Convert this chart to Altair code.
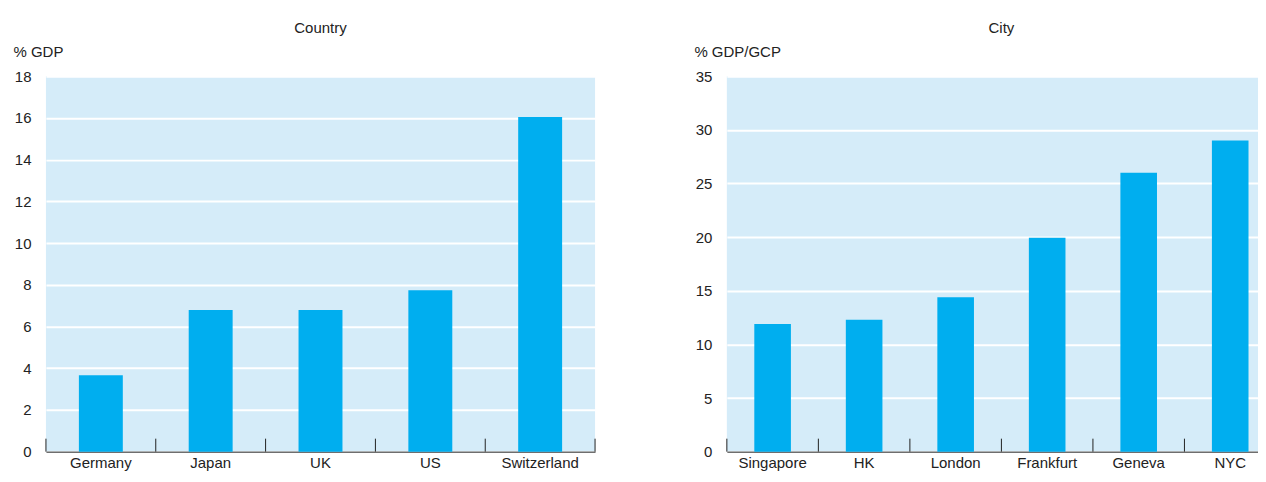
import altair as alt
import pandas as pd

countries = ["Germany", "Japan", "UK", "US", "Switzerland"]
country_vals = [3.66, 6.79, 6.79, 7.74, 16.05]
cities = ["Singapore", "HK", "London", "Frankfurt", "Geneva", "NYC"]
city_vals = [11.9, 12.3, 14.4, 19.95, 26.0, 29.0]

BAR = "#00AEEF"
BG = "#D5ECF9"
INK = "#222222"
FONT = "Liberation Sans"
W, H = 550, 376


def panel(cats, vals, ymax, ystep, ytitle, title):
    df = pd.DataFrame({"cat": cats, "val": vals})
    xs = alt.X("cat:N", sort=cats, scale=alt.Scale(paddingInner=0, paddingOuter=0),
               axis=alt.Axis(title=None, labelAngle=0, ticks=False, domain=True,
                             domainColor=INK, domainWidth=1, labelPadding=4,
                             labelFontSize=15, labelColor=INK, labelFont=FONT))
    bars = alt.Chart(df).mark_bar(color=BAR, width={"band": 0.4}).encode(
        x=xs,
        y=alt.Y("val:Q", scale=alt.Scale(domain=[0, ymax], nice=False),
                axis=alt.Axis(title=ytitle, values=list(range(0, ymax + 1, ystep)),
                              ticks=False, domain=False, grid=True, gridColor="white",
                              gridWidth=2, labelPadding=15, labelFontSize=15,
                              labelColor=INK, labelFont=FONT,
                              titleAngle=0, titleAlign="left", titleBaseline="alphabetic",
                              titleX=-33, titleY=-20, titleFontSize=15,
                              titleFontWeight="normal", titleColor=INK,
                              titleFont=FONT)),
    )
    ticks = alt.Chart(df).mark_rule(color=INK, strokeWidth=1).encode(
        x=alt.X("cat:N", sort=cats, bandPosition=0),
        y=alt.value(H - 13), y2=alt.value(H),
    )
    last = alt.Chart(df).transform_filter(alt.datum.cat == cats[-1]).mark_rule(
        color=INK, strokeWidth=1).encode(
        x=alt.X("cat:N", sort=cats, bandPosition=1),
        y=alt.value(H - 13), y2=alt.value(H),
    )
    return alt.layer(bars, ticks, last).properties(
        width=W, height=H,
        title=alt.TitleParams(title, fontSize=15, fontWeight="normal", color=INK,
                              font=FONT, offset=8, anchor="middle"),
    )


left = panel(countries, country_vals, 18, 2, "% GDP", "Country")
right = panel(cities, city_vals, 35, 5, "% GDP/GCP", "City")

chart = alt.hconcat(left, right, spacing=98).configure_view(
    fill=BG, stroke=None
).properties(padding={"left": 5, "top": 13, "right": -19, "bottom": 0})

chart.save("out.html", embed_options={"renderer": "svg", "actions": False})
